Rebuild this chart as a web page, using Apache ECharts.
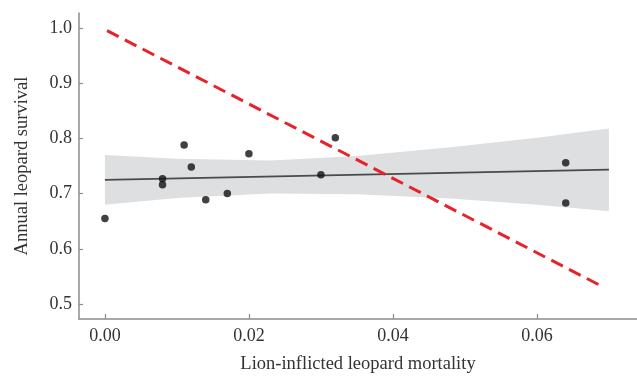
<!DOCTYPE html>
<html>
<head>
<meta charset="utf-8">
<title>Leopard survival</title>
<script src="https://cdn.jsdelivr.net/npm/echarts@6/dist/echarts.min.js"></script>
<style>
  html, body { margin: 0; padding: 0; background: #fff; }
  #main { width: 637px; height: 379px; }
</style>
</head>
<body>
<div id="main"></div>
<script>
// observed points
var mortality = [0, 0.008, 0.008, 0.011, 0.012, 0.014, 0.017, 0.020, 0.030, 0.032, 0.064, 0.064];
var survival = [0.655, 0.727, 0.716, 0.788, 0.748, 0.689, 0.700, 0.772, 0.734, 0.801, 0.756, 0.683];

// fitted line and its confidence band
var fitX = [0, 0.07];
var fitY = [0.725, 0.7435];
var bandX = [0, 0.01, 0.023, 0.035, 0.048, 0.06, 0.07];
var bandHi = [0.770, 0.763, 0.760, 0.768, 0.784, 0.801, 0.818];
var bandLo = [0.680, 0.692, 0.700, 0.699, 0.691, 0.680, 0.668];

// red dashed line
var redX = [0.0003, 0.0692];
var redY = [0.995, 0.531];

// tick labels
var xTicks = [0, 0.02, 0.04, 0.06];
var yTicks = [0.5, 0.6, 0.7, 0.8, 0.9, 1.0];

var font = 'Liberation Serif';
var txt = '#333';
var axisGrey = '#8c8c8c';

function zip(a, b) {
    return a.map(function (v, i) { return [v, b[i]]; });
}

var chart = echarts.init(document.getElementById('main'));

chart.setOption({
    animation: false,
    grid: { left: 79, right: 0, top: 13, bottom: 54 },
    xAxis: {
        type: 'value',
        min: -0.0036,
        max: 0.0739,
        name: 'Lion-inflicted leopard mortality',
        nameLocation: 'middle',
        nameGap: 36,
        nameTextStyle: { fontFamily: font, fontSize: 18.5, color: txt },
        axisLine: { onZero: false, lineStyle: { color: axisGrey, width: 1.5 } },
        axisTick: { show: true, inside: true, length: 5, customValues: xTicks, lineStyle: { color: axisGrey, width: 1.2 } },
        axisLabel: {
            customValues: xTicks,
            margin: 8,
            fontFamily: font, fontSize: 18, color: txt,
            formatter: function (v) { return v.toFixed(2); }
        },
        splitLine: { show: false }
    },
    yAxis: {
        type: 'value',
        min: 0.473,
        max: 1.027,
        name: 'Annual leopard survival',
        nameLocation: 'middle',
        nameGap: 47,
        nameTextStyle: { fontFamily: font, fontSize: 18.5, color: txt },
        axisLine: { show: true, onZero: false, lineStyle: { color: axisGrey, width: 1.5 } },
        axisTick: { show: true, inside: true, length: 4, customValues: yTicks, lineStyle: { color: axisGrey, width: 1.2 } },
        axisLabel: {
            customValues: yTicks,
            margin: 7,
            fontFamily: font, fontSize: 18, color: txt,
            formatter: function (v) { return v.toFixed(1); }
        },
        splitLine: { show: false }
    },
    series: [
        {
            // confidence band polygon
            type: 'custom',
            silent: true,
            z: 1,
            data: [[0, 0]],
            renderItem: function (params, api) {
                var pts = [];
                for (var i = 0; i < bandX.length; i++) pts.push(api.coord([bandX[i], bandHi[i]]));
                for (var j = bandX.length - 1; j >= 0; j--) pts.push(api.coord([bandX[j], bandLo[j]]));
                return { type: 'polygon', shape: { points: pts }, style: { fill: '#dedfe1' } };
            }
        },
        {
            type: 'line',
            z: 2,
            data: zip(fitX, fitY),
            symbol: 'none',
            lineStyle: { color: '#4a4a4a', width: 1.8 }
        },
        {
            type: 'scatter',
            z: 3,
            data: zip(mortality, survival),
            symbolSize: 7.5,
            itemStyle: { color: '#111' }
        },
        {
            type: 'line',
            z: 4,
            data: zip(redX, redY),
            symbol: 'none',
            lineStyle: { color: '#e8212b', width: 3, type: [13, 7] }
        }
    ]
});
</script>
</body>
</html>
